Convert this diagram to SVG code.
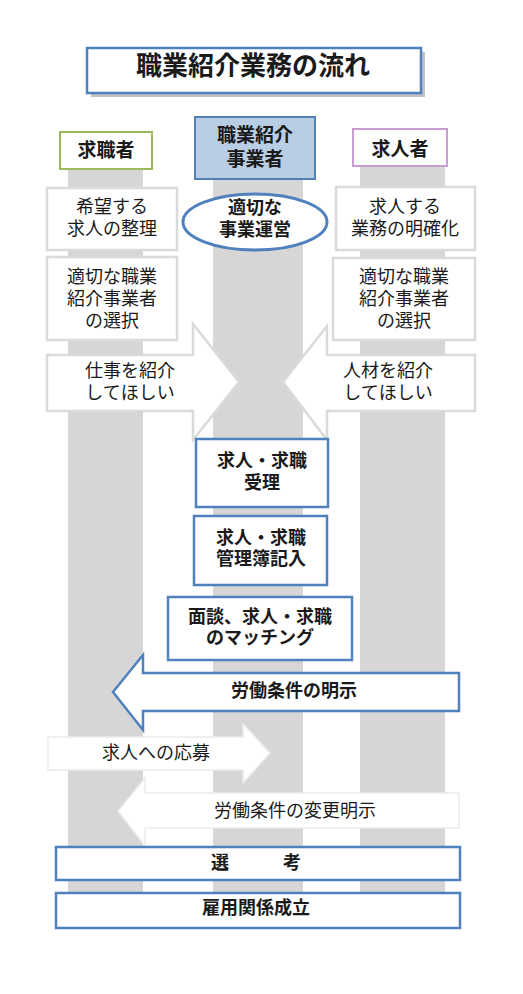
<svg xmlns="http://www.w3.org/2000/svg" width="523" height="994" viewBox="0 0 523 994">
<style>
text{font-family:"Liberation Sans","Noto Sans CJK JP","Noto Sans CJK SC",sans-serif;fill:#1a1a1a;text-anchor:middle;font-size:18px}
.b{font-weight:bold}
.col{fill:#d6d6d6}
.gbox{fill:#fff;stroke:#dadada;stroke-width:2.5}
.bbox{fill:#fff;stroke:#4f81bd;stroke-width:2.5}
.garrow{fill:#fff;stroke:#dadada;stroke-width:2.5;stroke-linejoin:miter}
.farrow{fill:#fff;stroke:#ececec;stroke-width:1.5}
</style>
<rect width="523" height="994" fill="#fff"/>
<g id="columns">
<rect class="col" x="68" y="150" width="75" height="743"/>
<rect class="col" x="213" y="160" width="90" height="733"/>
<rect class="col" x="360" y="150" width="85" height="743"/>
</g>
<g id="title">
<rect x="91" y="52" width="334" height="45" fill="#9a9a9a" opacity="0.6"/>
<rect x="87" y="48" width="334" height="45" fill="#fff" stroke="#4f81bd" stroke-width="2.5"/>
<text class="b" x="253" y="75" style="font-size:26px">職業紹介業務の流れ</text>
</g>
<g id="h-seeker">
<rect x="60" y="132" width="92" height="37" fill="#fff" stroke="#9bbb59" stroke-width="2"/>
<text class="b" x="106" y="157" style="font-size:19px">求職者</text>
</g>
<g id="h-agency">
<rect x="195" y="117" width="120" height="62" fill="#b9cde5" stroke="#4f81bd" stroke-width="2"/>
<text class="b" x="255" y="142" style="font-size:19px"><tspan x="255" y="142">職業紹介</tspan><tspan x="255" y="166">事業者</tspan></text>
</g>
<g id="h-employer">
<rect x="353" y="129" width="94" height="37" fill="#fff" stroke="#c99cd6" stroke-width="2"/>
<text class="b" x="400" y="156" style="font-size:19px">求人者</text>
</g>
<g id="s-organize">
<rect class="gbox" x="47" y="188" width="130" height="62"/>
<text x="112" y="213"><tspan x="112" y="213">希望する</tspan><tspan x="112" y="235">求人の整理</tspan></text>
</g>
<g id="a-operation">
<ellipse cx="255" cy="222" rx="72" ry="28" fill="#fff" stroke="#4f81bd" stroke-width="3"/>
<text class="b" x="255" y="214"><tspan x="255" y="214">適切な</tspan><tspan x="255" y="236">事業運営</tspan></text>
</g>
<g id="e-clarify">
<rect class="gbox" x="336" y="187" width="139" height="63"/>
<text x="405" y="213"><tspan x="405" y="213">求人する</tspan><tspan x="405" y="235">業務の明確化</tspan></text>
</g>
<g id="s-select">
<rect class="gbox" x="47" y="257" width="130" height="83"/>
<text x="112" y="283"><tspan x="112" y="283">適切な職業</tspan><tspan x="112" y="305">紹介事業者</tspan><tspan x="112" y="327">の選択</tspan></text>
</g>
<g id="e-select">
<rect class="gbox" x="333" y="258" width="142" height="82"/>
<text x="404" y="283"><tspan x="404" y="283">適切な職業</tspan><tspan x="404" y="305">紹介事業者</tspan><tspan x="404" y="327">の選択</tspan></text>
</g>
<g id="connectors">
<g id="arrow-job">
<polygon class="garrow" points="47,355 193,355 193,324 239,382 193,440 193,411 47,411"/>
<text x="130" y="377"><tspan x="130" y="377">仕事を紹介</tspan><tspan x="130" y="399">してほしい</tspan></text>
</g>
<g id="arrow-talent">
<polygon class="garrow" points="475,355 327,355 327,326 283,382 327,440 327,411 475,411"/>
<text x="388" y="377"><tspan x="388" y="377">人材を紹介</tspan><tspan x="388" y="399">してほしい</tspan></text>
</g>
<g id="arrow-conditions">
<polygon points="459,673 143,673 143,655 113,692 143,730 143,711 459,711" fill="#fff" stroke="#4f81bd" stroke-width="2.5"/>
<text class="b" x="294" y="697">労働条件の明示</text>
</g>
<g id="arrow-apply">
<polygon class="farrow" points="48,737 243,737 243,724 270,753 243,783 243,770 48,770"/>
<text x="156" y="759">求人への応募</text>
</g>
<g id="arrow-change">
<polygon class="farrow" points="459,793 145,793 145,778 118,811 145,846 145,828 459,828"/>
<text x="295" y="817">労働条件の変更明示</text>
</g>
</g>
<g id="c-receive">
<rect class="bbox" x="196" y="439" width="132" height="68"/>
<text class="b" x="262" y="467"><tspan x="262" y="467">求人・求職</tspan><tspan x="262" y="489">受理</tspan></text>
</g>
<g id="c-ledger">
<rect class="bbox" x="194" y="516" width="133" height="69"/>
<text class="b" x="261" y="544"><tspan x="261" y="544">求人・求職</tspan><tspan x="261" y="565">管理簿記入</tspan></text>
</g>
<g id="c-matching">
<rect class="bbox" x="168" y="597" width="184" height="63"/>
<text class="b" x="260" y="623"><tspan x="260" y="623">面談、求人・求職</tspan><tspan x="260" y="644">のマッチング</tspan></text>
</g>
<g id="selection">
<rect class="bbox" x="56" y="847" width="404" height="33"/>
<text class="b" x="256" y="869">選　　　考</text>
</g>
<g id="employment">
<rect class="bbox" x="56" y="893" width="404" height="35"/>
<text class="b" x="256" y="914">雇用関係成立</text>
</g>
</svg>
